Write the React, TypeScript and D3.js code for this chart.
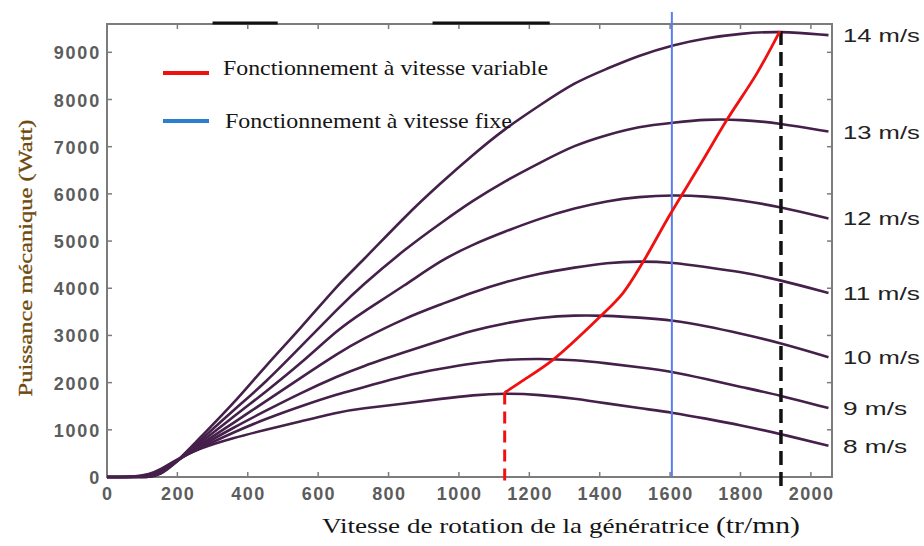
import React, { useEffect, useRef } from 'react';
import * as d3 from 'd3';

// generator speed grid (tr/mn) shared by all the power curves
const rpm = [0, 80, 120, 150, 200, 260, 360, 450, 550, 660, 720, 850, 950, 1040, 1130, 1230, 1330, 1420, 1510, 1610, 1700, 1800, 1910, 2050];

// mechanical power (W) for each wind speed
const power8 = [0, 0, 60, 150, 380, 600, 830, 1000, 1180, 1380, 1450, 1560, 1660, 1737, 1775, 1745, 1660, 1561, 1460, 1362, 1240, 1100, 920, 660];
const power9 = [0, 0, 40, 110, 370, 600, 950, 1230, 1500, 1770, 1880, 2160, 2300, 2410, 2490, 2510, 2480, 2410, 2330, 2230, 2080, 1910, 1735, 1460];
const power10 = [0, 0, 30, 90, 360, 630, 1050, 1400, 1780, 2150, 2330, 2655, 2900, 3110, 3260, 3380, 3430, 3420, 3380, 3320, 3200, 3040, 2850, 2540];
const power11 = [0, 0, 20, 70, 350, 660, 1150, 1600, 2100, 2640, 2900, 3380, 3660, 3920, 4130, 4320, 4440, 4540, 4575, 4545, 4450, 4350, 4180, 3900];
const power12 = [0, 0, 0, 50, 340, 700, 1280, 1800, 2400, 3150, 3460, 4080, 4600, 4930, 5200, 5480, 5700, 5850, 5940, 5975, 5950, 5870, 5730, 5480];
const power13 = [0, 0, 0, 30, 330, 740, 1420, 2000, 2760, 3600, 4030, 4850, 5390, 5860, 6270, 6660, 7040, 7250, 7430, 7510, 7580, 7575, 7500, 7320];
const power14 = [0, 0, 0, 40, 330, 800, 1560, 2350, 3150, 4110, 4530, 5550, 6240, 6830, 7380, 7880, 8370, 8650, 8930, 9160, 9300, 9400, 9450, 9365];

const windLabels = ['8 m/s', '9 m/s', '10 m/s', '11 m/s', '12 m/s', '13 m/s', '14 m/s'];
const powerCurves = [power8, power9, power10, power11, power12, power13, power14];

// maximum power point tracking (variable speed operation)
const variableRpm = [1130, 1175, 1265, 1400, 1466, 1523, 1599, 1685, 1761, 1847, 1912];
const variablePower = [1790, 2010, 2470, 3390, 3898, 4555, 5551, 6610, 7564, 8559, 9450];

const fixedRpm = 1605;
const maxRpm = 1915;

const xTicks = [0, 200, 400, 600, 800, 1000, 1200, 1400, 1600, 1800, 2000];
const yTicks = [0, 1000, 2000, 3000, 4000, 5000, 6000, 7000, 8000, 9000];

// dark scan marks sitting on the top frame of the original figure
const topMarks = [[300, 485], [925, 1258]];

const legendItems = [
  { label: 'Fonctionnement à vitesse variable', color: '#f01010', len: 325 },
  { label: 'Fonctionnement à vitesse fixe', color: '#2a7fd0', len: 287 },
];

export default function App() {
  const svgRef = useRef<SVGSVGElement>(null);

  useEffect(() => {
    const svg = d3.select(svgRef.current);
    svg.selectAll('*').remove();

    const W = 924;
    const H = 546;
    svg.attr('width', W).attr('height', H).attr('viewBox', `0 0 ${W} ${H}`);

    const x = d3.scaleLinear().domain([0, 2060]).range([107, 832]);
    const y = d3.scaleLinear().domain([0, 9600]).range([477, 24]);
    const [x0, x1] = x.range();
    const [y0, y1] = y.range();

    const sans = "'Liberation Sans', Arial, sans-serif";
    const serif = "'Liberation Serif', 'Times New Roman', serif";
    const axisColor = '#7c7c7c';
    const curveColor = '#45204a';

    svg.append('rect').attr('width', W).attr('height', H).attr('fill', '#fff');

    // frame
    svg.append('rect')
      .attr('x', x0).attr('y', y1)
      .attr('width', x1 - x0).attr('height', y0 - y1)
      .attr('fill', 'none')
      .attr('stroke', axisColor)
      .attr('stroke-width', 2);

    // ticks on all four sides, pointing inward
    const tickLen = 5;
    const ticks = svg.append('g').attr('stroke', axisColor).attr('stroke-width', 1.5);
    xTicks.forEach(v => {
      ticks.append('line').attr('x1', x(v)).attr('x2', x(v)).attr('y1', y0).attr('y2', y0 - tickLen);
      ticks.append('line').attr('x1', x(v)).attr('x2', x(v)).attr('y1', y1).attr('y2', y1 + tickLen);
    });
    yTicks.forEach(v => {
      ticks.append('line').attr('x1', x0).attr('x2', x0 + tickLen).attr('y1', y(v)).attr('y2', y(v));
      ticks.append('line').attr('x1', x1).attr('x2', x1 - tickLen).attr('y1', y(v)).attr('y2', y(v));
    });

    topMarks.forEach(([a, b]) => {
      svg.append('line')
        .attr('x1', x(a)).attr('x2', x(b))
        .attr('y1', y1 - 1).attr('y2', y1 - 1)
        .attr('stroke', '#111')
        .attr('stroke-width', 3);
    });

    // tick labels
    svg.append('g').selectAll('text')
      .data(xTicks)
      .join('text')
      .attr('x', d => x(d) + 0.7)
      .attr('y', y0 + 23)
      .attr('text-anchor', 'middle')
      .attr('font-family', sans)
      .attr('font-size', 18)
      .attr('font-weight', 'bold')
      .attr('letter-spacing', 1.4)
      .attr('fill', '#5c5c5c')
      .text(d => d);

    svg.append('g').selectAll('text')
      .data(yTicks)
      .join('text')
      .attr('x', x0 - 6)
      .attr('y', d => y(d) + 7)
      .attr('text-anchor', 'end')
      .attr('font-family', sans)
      .attr('font-size', 18)
      .attr('font-weight', 'bold')
      .attr('letter-spacing', 1.8)
      .attr('fill', '#5c5c5c')
      .text(d => d);

    // power curves (B-spline through the read points smooths reading noise)
    const line = d3.line<number>()
      .x((d, i) => x(rpm[i]))
      .y(d => y(d))
      .curve(d3.curveBasis);

    const curves = svg.append('g');
    powerCurves.forEach(values => {
      curves.append('path')
        .attr('d', line(values))
        .attr('fill', 'none')
        .attr('stroke', curveColor)
        .attr('stroke-width', 2.6);
    });

    // wind speed labels at the right end of each curve
    windLabels.forEach((label, i) => {
      const values = powerCurves[i];
      svg.append('text')
        .attr('x', x1 + 11)
        .attr('y', y(values[values.length - 1]) + 7)
        .attr('font-family', sans)
        .attr('font-size', 19)
        .attr('fill', '#222')
        .attr('textLength', label.length * 12.8)
        .attr('lengthAdjust', 'spacingAndGlyphs')
        .text(label);
    });

    // fixed speed operation
    svg.append('line')
      .attr('x1', x(fixedRpm)).attr('x2', x(fixedRpm))
      .attr('y1', y1 - 12).attr('y2', y0)
      .attr('stroke', '#5b7cf2')
      .attr('stroke-width', 2);

    // max power at 14 m/s
    svg.append('line')
      .attr('x1', x(maxRpm)).attr('x2', x(maxRpm))
      .attr('y1', y(variablePower[variablePower.length - 1])).attr('y2', y0 + 10)
      .attr('stroke', '#111')
      .attr('stroke-width', 3.5)
      .attr('stroke-dasharray', '14 7');

    // variable speed operation
    svg.append('line')
      .attr('x1', x(variableRpm[0])).attr('x2', x(variableRpm[0]))
      .attr('y1', y(variablePower[0])).attr('y2', y0 + 10)
      .attr('stroke', '#f01010')
      .attr('stroke-width', 3)
      .attr('stroke-dasharray', '12 7');

    const mppt = d3.line<number>()
      .x((d, i) => x(variableRpm[i]))
      .y(d => y(d))
      .curve(d3.curveCatmullRom.alpha(0.5));

    svg.append('path')
      .attr('d', mppt(variablePower))
      .attr('fill', 'none')
      .attr('stroke', '#f01010')
      .attr('stroke-width', 2.8);

    // legend
    legendItems.forEach((item, i) => {
      const ly = 73 + i * 48;
      svg.append('line')
        .attr('x1', 163).attr('x2', 209)
        .attr('y1', ly).attr('y2', ly)
        .attr('stroke', item.color)
        .attr('stroke-width', 4);
      svg.append('text')
        .attr('x', 223 + i * 2)
        .attr('y', ly + 2 + i * 5)
        .attr('font-family', serif)
        .attr('font-size', 21)
        .attr('fill', '#151515')
        .attr('textLength', item.len)
        .attr('lengthAdjust', 'spacingAndGlyphs')
        .text(item.label);
    });

    // axis titles
    const xt = svg.append('text')
      .attr('x', 322)
      .attr('y', 533)
      .attr('font-family', serif)
      .attr('font-size', 21)
      .attr('fill', '#151515')
      .attr('textLength', 478)
      .attr('lengthAdjust', 'spacingAndGlyphs');
    xt.append('tspan').text('Vitesse de rotation de la génératrice ');
    xt.append('tspan').attr('font-size', 23).text('(tr/mn)');

    svg.append('text')
      .attr('transform', 'translate(32, 258) rotate(-90)')
      .attr('text-anchor', 'middle')
      .attr('font-family', serif)
      .attr('font-size', 19)
      .attr('fill', '#6e4a0e')
      .attr('stroke', '#6e4a0e')
      .attr('stroke-width', 0.3)
      .attr('textLength', 277)
      .attr('lengthAdjust', 'spacingAndGlyphs')
      .text('Puissance mécanique (Watt)');
  }, []);

  return (
    <div style={{ position: 'absolute', left: 0, top: 0, width: 924, height: 546, background: '#fff' }}>
      <svg ref={svgRef} style={{ display: 'block' }} />
    </div>
  );
}
